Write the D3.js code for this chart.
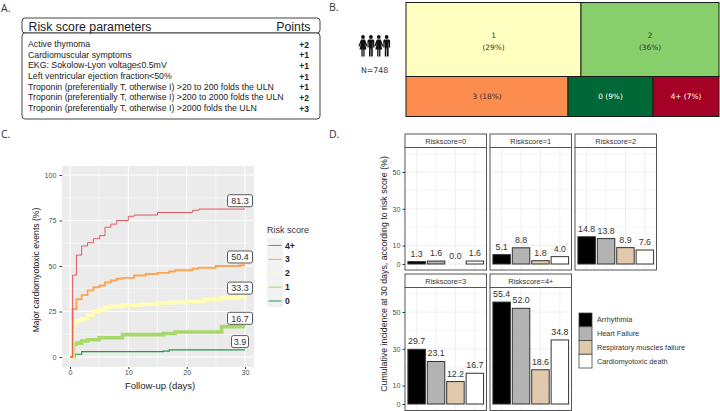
<!DOCTYPE html>
<html><head><meta charset="utf-8">
<script src="https://cdn.jsdelivr.net/npm/d3@7"></script>
<style>html,body{margin:0;padding:0;background:#fff}svg{display:block}text{font-family:"Liberation Sans",Arial,sans-serif}</style>
</head><body><svg id="c" width="720" height="411"></svg>
<script>
// Panel A
const paramRows=["Active thymoma","Cardiomuscular symptoms","EKG: Sokolow-Lyon voltage≤0.5mV","Left ventricular ejection fraction<50%","Troponin (preferentially T, otherwise I) >20 to 200 folds the ULN","Troponin (preferentially T, otherwise I) >200 to 2000 folds the ULN","Troponin (preferentially T, otherwise I) >2000 folds the ULN"];
const paramPoints=["+2","+1","+1","+1","+1","+2","+3"];
// Panel B (areas as drawn in the picture; labels as printed)
const treeLabels=["1","2","3","0","4+"];
const treePercents=[29,36,18,9,7];
const treeAreas=[36.3,28.6,18.2,9.5,7.4];
const treeColors=["#ffffbf","#86cf6a","#fd8d4f","#006837","#a50026"];
const treeText=["#333","#333","#333","#fff","#fff"];
const treeRows=[[0,1],[2,3,4]];
// Panel C
const kmNames=["4+","3","2","1","0"];
const kmColors=["#dc5b60","#fca654","#ffffb3","#a6d96a","#1f9a48"];
const kmWidths=[1,1.9,3.6,3.6,1.2];
const kmEnd=[81.3,50.4,33.3,16.7,3.9];
const km4Days=[0,0.45,1.1,2,3,4,5.1,6,7,8,10,11,15,21,22.1,30];
const km4Vals=[0,45,56,61,62.8,65,66.7,71.3,73,75,77.3,78,79.4,80.6,81.3,81.3];
const km3Days=[0,0.45,1.1,2,3,4,5.1,6,7,8,9,11,13,15,17,18,21,22,25,29.2,30];
const km3Vals=[0,26.4,31.7,34,36.6,38.3,39.3,41,42,43,43.5,44.8,45.6,46.2,47,47.7,48.5,49,50,50.4,50.4];
const km2Days=[0,0.45,1.1,2,3,4,5,6,7,9,12,15,17,20,23,26,29,30];
const km2Vals=[0,18.6,20,21,23,25,26.3,27.2,27.8,28.5,29,29.7,30,30.5,31.6,32.6,33.1,33.3];
const km1Days=[0,0.6,1.1,2,3,5,9,16,18,26,30];
const km1Vals=[0,7,7.6,8.8,9.5,10.6,12.3,12.9,13.7,16.7,16.7];
const km0Days=[0,0.85,2,16,17,30];
const km0Vals=[0,1.5,2.9,3.2,3.9,3.9];
const kmDays=[km4Days,km3Days,km2Days,km1Days,km0Days];
const kmVals=[km4Vals,km3Vals,km2Vals,km1Vals,km0Vals];
const kmXTicks=[0,10,20,30];
const kmYTicks=[0,25,50,75,100];
// Panel D
const outcomes=["Arrhythmia","Heart Failure","Respiratory muscles failure","Cardiomyotoxic death"];
const outcomeColors=["#000000","#b3b3b3","#e0c9ac","#ffffff"];
const facetNames=["Riskscore=0","Riskscore=1","Riskscore=2","Riskscore=3","Riskscore=4+"];
const facet0=[1.3,1.6,0.0,1.6];
const facet1=[5.1,8.8,1.8,4.0];
const facet2=[14.8,13.8,8.9,7.6];
const facet3=[29.7,23.1,12.2,16.7];
const facet4=[55.4,52.0,18.6,34.8];
const facetVals=[facet0,facet1,facet2,facet3,facet4];
const facetYTicks=[0,10,30,50];

const svg=d3.select("#c");
const T=(g,x,y,s,o={})=>{const t=g.append("text").attr("x",x).attr("y",y).text(s).attr("font-size",o.size||8).attr("fill",o.fill||"#222").attr("text-anchor",o.anchor||"start");
 if(o.weight)t.attr("font-weight",o.weight); if(o.family)t.attr("style","font-family:"+o.family); if(o.rot!=null)t.attr("transform",`rotate(${o.rot} ${x} ${y})`); return t;};
const panelFont='"Open Sans",sans-serif';
[["A.",1,12],["B.",329,11],["C.",1,138],["D.",329,138]].forEach(d=>T(svg,d[1],d[2],d[0],{size:10.5,family:panelFont,fill:"#333"}));

// A
const a=svg.append("g");
a.append("rect").attr("x",22).attr("y",18).attr("width",298).attr("height",15).attr("rx",3).attr("fill","#fff").attr("stroke","#444");
a.append("rect").attr("x",22).attr("y",33).attr("width",298).attr("height",86).attr("rx",3).attr("fill","#fff").attr("stroke","#444");
T(a,28.5,30.5,"Risk score parameters",{size:12.3});
T(a,310.5,30.5,"Points",{size:12.3,anchor:"end"});
const rowY=d3.scalePoint().domain(d3.range(paramRows.length)).range([47,111]);
paramRows.forEach((r,i)=>{T(a,28,rowY(i),r,{size:8.75});T(a,309,rowY(i)+.5,paramPoints[i],{size:8.5,anchor:"end",weight:"bold"});});

// B
const b=svg.append("g");
const rootData={children:treeRows.map(r=>({children:r.map(i=>({i,v:treeAreas[i]}))}))};
const root=d3.hierarchy(rootData).sum(d=>d.v||0);
d3.treemap().size([313,114]).round(true).tile((n,x0,y0,x1,y1)=>(n.depth===0?d3.treemapSlice:d3.treemapDice)(n,x0,y0,x1,y1))(root);
const tg=b.append("g").attr("transform","translate(406,2.5)");
root.leaves().forEach(l=>{const i=l.data.i,cx=(l.x0+l.x1)/2,cy=(l.y0+l.y1)/2;
 tg.append("rect").attr("x",l.x0).attr("y",l.y0).attr("width",l.x1-l.x0).attr("height",l.y1-l.y0).attr("fill",treeColors[i]).attr("stroke","#1a1a1a").attr("stroke-width",1);
 const f=`Tahoma,"DejaVu Sans",sans-serif`;
 if(i<2){T(tg,cx,cy-2,treeLabels[i],{size:7.4,anchor:"middle",fill:treeText[i],family:f});T(tg,cx,cy+10,`(${treePercents[i]}%)`,{size:7.4,anchor:"middle",fill:treeText[i],family:f});}
 else T(tg,cx,cy+2.5,`${treeLabels[i]} (${treePercents[i]}%)`,{size:7.4,anchor:"middle",fill:treeText[i],family:f});
});
// people icon
const ic=b.append("g").attr("transform","translate(359,35)");
[0,1,2,3].forEach(k=>{const g=ic.append("g").attr("transform",`translate(${k*7.9+4},0)`);
 g.append("circle").attr("cy",2).attr("r",1.9).attr("fill","#111");
 if(k%2===0) g.append("path").attr("d","M-2 4.5H2L4.5 11L3.4 11.5L2 8L3.5 14.5H1.6V21.5H.3V14.5H-.3V21.5H-1.6V14.5H-3.5L-2 8L-3.4 11.5L-4.5 11Z").attr("fill","#111");
 else g.append("path").attr("d","M-2.4 4.5H2.4L3.4 5.5V12.5H2.2V7.5H1.9V21.5H.3V13.5H-.3V21.5H-1.9V7.5H-2.2V12.5H-3.4V5.5Z").attr("fill","#111");
});
T(b,374.5,72.5,"N=748",{size:7.8,anchor:"middle",family:`Tahoma,"DejaVu Sans",sans-serif`,fill:"#333"});

// C
const c=svg.append("g");
const x=d3.scaleLinear().domain([0,30]).range([70,245]);
const y=d3.scaleLinear().domain([0,100]).range([357,175]);
c.append("rect").attr("x",62).attr("y",166).attr("width",192).attr("height",201).attr("fill","#ebebeb");
d3.range(5,30,10).forEach(v=>c.append("line").attr("x1",x(v)).attr("x2",x(v)).attr("y1",166).attr("y2",367).attr("stroke","#fff").attr("stroke-width",.5));
d3.range(12.5,100,25).forEach(v=>c.append("line").attr("x1",62).attr("x2",254).attr("y1",y(v)).attr("y2",y(v)).attr("stroke","#fff").attr("stroke-width",.5));
kmXTicks.forEach(v=>c.append("line").attr("x1",x(v)).attr("x2",x(v)).attr("y1",166).attr("y2",367).attr("stroke","#fff"));
kmYTicks.forEach(v=>c.append("line").attr("x1",62).attr("x2",254).attr("y1",y(v)).attr("y2",y(v)).attr("stroke","#fff"));
const xAxisG=c.append("g").attr("transform","translate(0,367)").call(d3.axisBottom(x).tickValues(kmXTicks).tickSize(2).tickPadding(1));
const yAxisG=c.append("g").attr("transform","translate(62,0)").call(d3.axisLeft(y).tickValues(kmYTicks).tickSize(2.5).tickPadding(3));
[xAxisG,yAxisG].forEach(g=>{g.select(".domain").remove();g.selectAll("line").attr("stroke","#333");g.selectAll("text").attr("font-size",7.2).attr("fill","#4d4d4d").attr("font-family",null);});
const line=d3.line().curve(d3.curveStepAfter).x(d=>x(d[0])).y(d=>y(d[1]));
[4,3,2,1,0].forEach(i=>c.append("path").attr("d",line(kmDays[i].map((d,j)=>[d,kmVals[i][j]]))).attr("fill","none").attr("stroke",kmColors[i]).attr("stroke-width",kmWidths[i]));
kmEnd.forEach((v,i)=>{const w=v<10?17:25,cy=y(v)-8.3,cx=x(30)-5;
 c.append("rect").attr("x",cx-w/2).attr("y",cy-6).attr("width",w).attr("height",12).attr("rx",2).attr("fill","#fff").attr("stroke","#333").attr("stroke-width",.8);
 T(c,cx,cy+3.2,v.toFixed(1),{size:9,anchor:"middle",fill:"#333"});});
T(c,160,388.5,"Follow-up (days)",{size:9.5,anchor:"middle"});
T(c,39,270,"Major cardiomyotoxic events (%)",{size:8.6,anchor:"middle",rot:-90});
T(c,267,233,"Risk score",{size:9,fill:"#333"});
c.append("rect").attr("x",267).attr("y",238).attr("width",16).attr("height",69).attr("fill","#f2f2f2");
const legY=d3.scalePoint().domain(kmNames).range([245.5,301]);
kmNames.forEach((n,i)=>{c.append("line").attr("x1",268.5).attr("x2",281.5).attr("y1",legY(n)).attr("y2",legY(n)).attr("stroke",kmColors[i]).attr("stroke-width",1);
 T(c,285,legY(n)+3,n,{size:8.6,weight:"bold",fill:"#222"});});

// D
const d=svg.append("g");
const facetBoxes=[[405,134,0],[490,134,0],[575,134,0],[405,274,140],[490,274,140]];
const fx=d3.scaleBand().domain(d3.range(4)).paddingInner(.1).paddingOuter(.15);
facetVals.forEach((vals,f)=>{
 const [x0,top,dy]=facetBoxes[f],w=81.5,sb=top+13.5,bot=dy?410.5:270;
 const yy=d3.scaleLinear().domain([0,50]).range([264+dy,172+dy]);
 fx.range([x0,x0+w]);
 const g=d.append("g");
 g.append("rect").attr("x",x0).attr("y",sb).attr("width",w).attr("height",bot-sb).attr("fill","#fff");
 d3.range(0,70,10).forEach(v=>{if(yy(v)>sb)g.append("line").attr("x1",x0).attr("x2",x0+w).attr("y1",yy(v)).attr("y2",yy(v)).attr("stroke","#ececec").attr("stroke-width",facetYTicks.includes(v)?.8:.5);});
 d3.range(4).forEach(k=>g.append("line").attr("x1",fx(k)+fx.bandwidth()/2).attr("x2",fx(k)+fx.bandwidth()/2).attr("y1",sb).attr("y2",bot).attr("stroke","#ececec").attr("stroke-width",.8));
 vals.forEach((v,k)=>{
  if(v>0)g.append("rect").attr("x",fx(k)).attr("y",yy(v)).attr("width",fx.bandwidth()).attr("height",yy(0)-yy(v)).attr("fill",outcomeColors[k]).attr("stroke","#333").attr("stroke-width",1);
  T(g,fx(k)+fx.bandwidth()/2,yy(v)-5,v.toFixed(1),{size:8.8,anchor:"middle",fill:"#333"});
 });
 g.append("rect").attr("x",x0).attr("y",top).attr("width",w).attr("height",13.5).attr("fill","#fff").attr("stroke","#555").attr("stroke-width",1);
 g.append("rect").attr("x",x0).attr("y",sb).attr("width",w).attr("height",bot-sb).attr("fill","none").attr("stroke","#555").attr("stroke-width",1);
 T(g,x0+w/2,top+9.5,facetNames[f],{size:7.4,anchor:"middle",fill:"#333"});
 if(x0===405){const ax=g.append("g").attr("transform",`translate(${x0},0)`).call(d3.axisLeft(yy).tickValues(facetYTicks).tickSize(2.5).tickPadding(2));
  ax.select(".domain").remove();ax.selectAll("line").attr("stroke","#333");ax.selectAll("text").attr("font-size",7.2).attr("fill","#4d4d4d").attr("font-family",null);}
});
T(d,387,274,"Cumulative incidence at 30 days, according to risk score (%)",{size:8.8,anchor:"middle",rot:-90});
const ly=d3.scaleBand().domain(outcomes).range([313,368]);
outcomes.forEach((n,i)=>{d.append("rect").attr("x",579).attr("y",ly(n)).attr("width",13).attr("height",ly.bandwidth()).attr("fill",outcomeColors[i]).attr("stroke","#444").attr("stroke-width",.8);
 T(d,597,ly(n)+ly.bandwidth()/2+2.5,n,{size:7.3,fill:"#333"});});
</script></body></html>
